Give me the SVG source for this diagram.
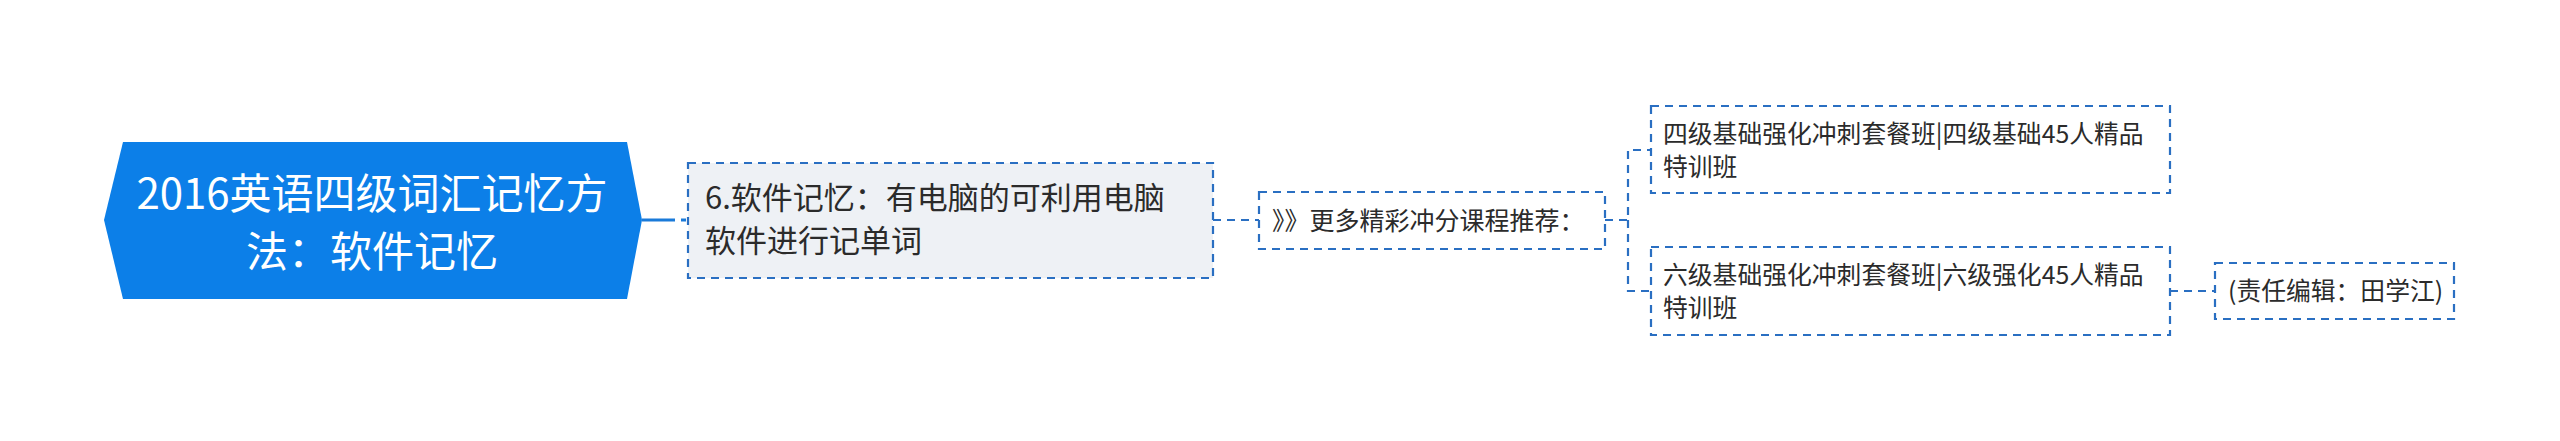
<svg xmlns="http://www.w3.org/2000/svg" width="2560" height="441" viewBox="0 0 2560 441">
<style>
.t{font-family:"Noto Sans CJK SC","Microsoft YaHei",sans-serif;fill:#2b2b2b}
.root{font-family:"Noto Sans CJK SC","Microsoft YaHei",sans-serif;fill:#ffffff;font-size:42px}
.box{fill:#ffffff;stroke:#2a6fc2;stroke-width:2.2;stroke-dasharray:8 6}
.box2{fill:#eef1f5;stroke:#2a6fc2;stroke-width:2.2;stroke-dasharray:8 6}
.c{fill:none;stroke:#2a6fc2;stroke-width:2.2;stroke-dasharray:8 6}
</style>
<rect width="2560" height="441" fill="#ffffff"/>
<g id="connectors">
<path d="M642,220 H688" fill="none" stroke="#1a7ad9" stroke-width="3" stroke-dasharray="33 6 5 50"/>
<path class="c" d="M1213,220 H1259"/>
<path class="c" d="M1605,220 H1628 V150 H1651"/>
<path class="c" d="M1628,220 V291 H1651"/>
<path class="c" d="M2170,291 H2215"/>
</g>
<g id="root">
<polygon points="104,220 123,142 627,142 642,220 627,299 123,299" fill="#0c7fe8"/>
<text class="root" x="372" y="209" text-anchor="middle">2016英语四级词汇记忆方</text>
<text class="root" x="372" y="267" text-anchor="middle">法：软件记忆</text>
</g>
<g id="node-software">
<rect class="box2" x="688" y="163" width="525" height="115"/>
<text class="t" font-size="31" x="705" y="209">6.软件记忆：有电脑的可利用电脑</text>
<text class="t" font-size="31" x="705" y="252">软件进行记单词</text>
</g>
<g id="node-more">
<rect class="box" x="1259" y="192" width="346" height="57"/>
<text class="t" font-size="25" x="1272" y="230">》》更多精彩冲分课程推荐：</text>
</g>
<g id="node-cet4">
<rect class="box" x="1651" y="106" width="519" height="87"/>
<text class="t" font-size="24.8" x="1663" y="143">四级基础强化冲刺套餐班|四级基础45人精品</text>
<text class="t" font-size="24.8" x="1663" y="176">特训班</text>
</g>
<g id="node-cet6">
<rect class="box" x="1651" y="247" width="519" height="88"/>
<text class="t" font-size="24.8" x="1663" y="284">六级基础强化冲刺套餐班|六级强化45人精品</text>
<text class="t" font-size="24.8" x="1663" y="317">特训班</text>
</g>
<g id="node-editor">
<rect class="box" x="2215" y="263" width="239" height="56"/>
<text class="t" font-size="24.8" x="2228" y="300">(责任编辑：田学江)</text>
</g>
</svg>
